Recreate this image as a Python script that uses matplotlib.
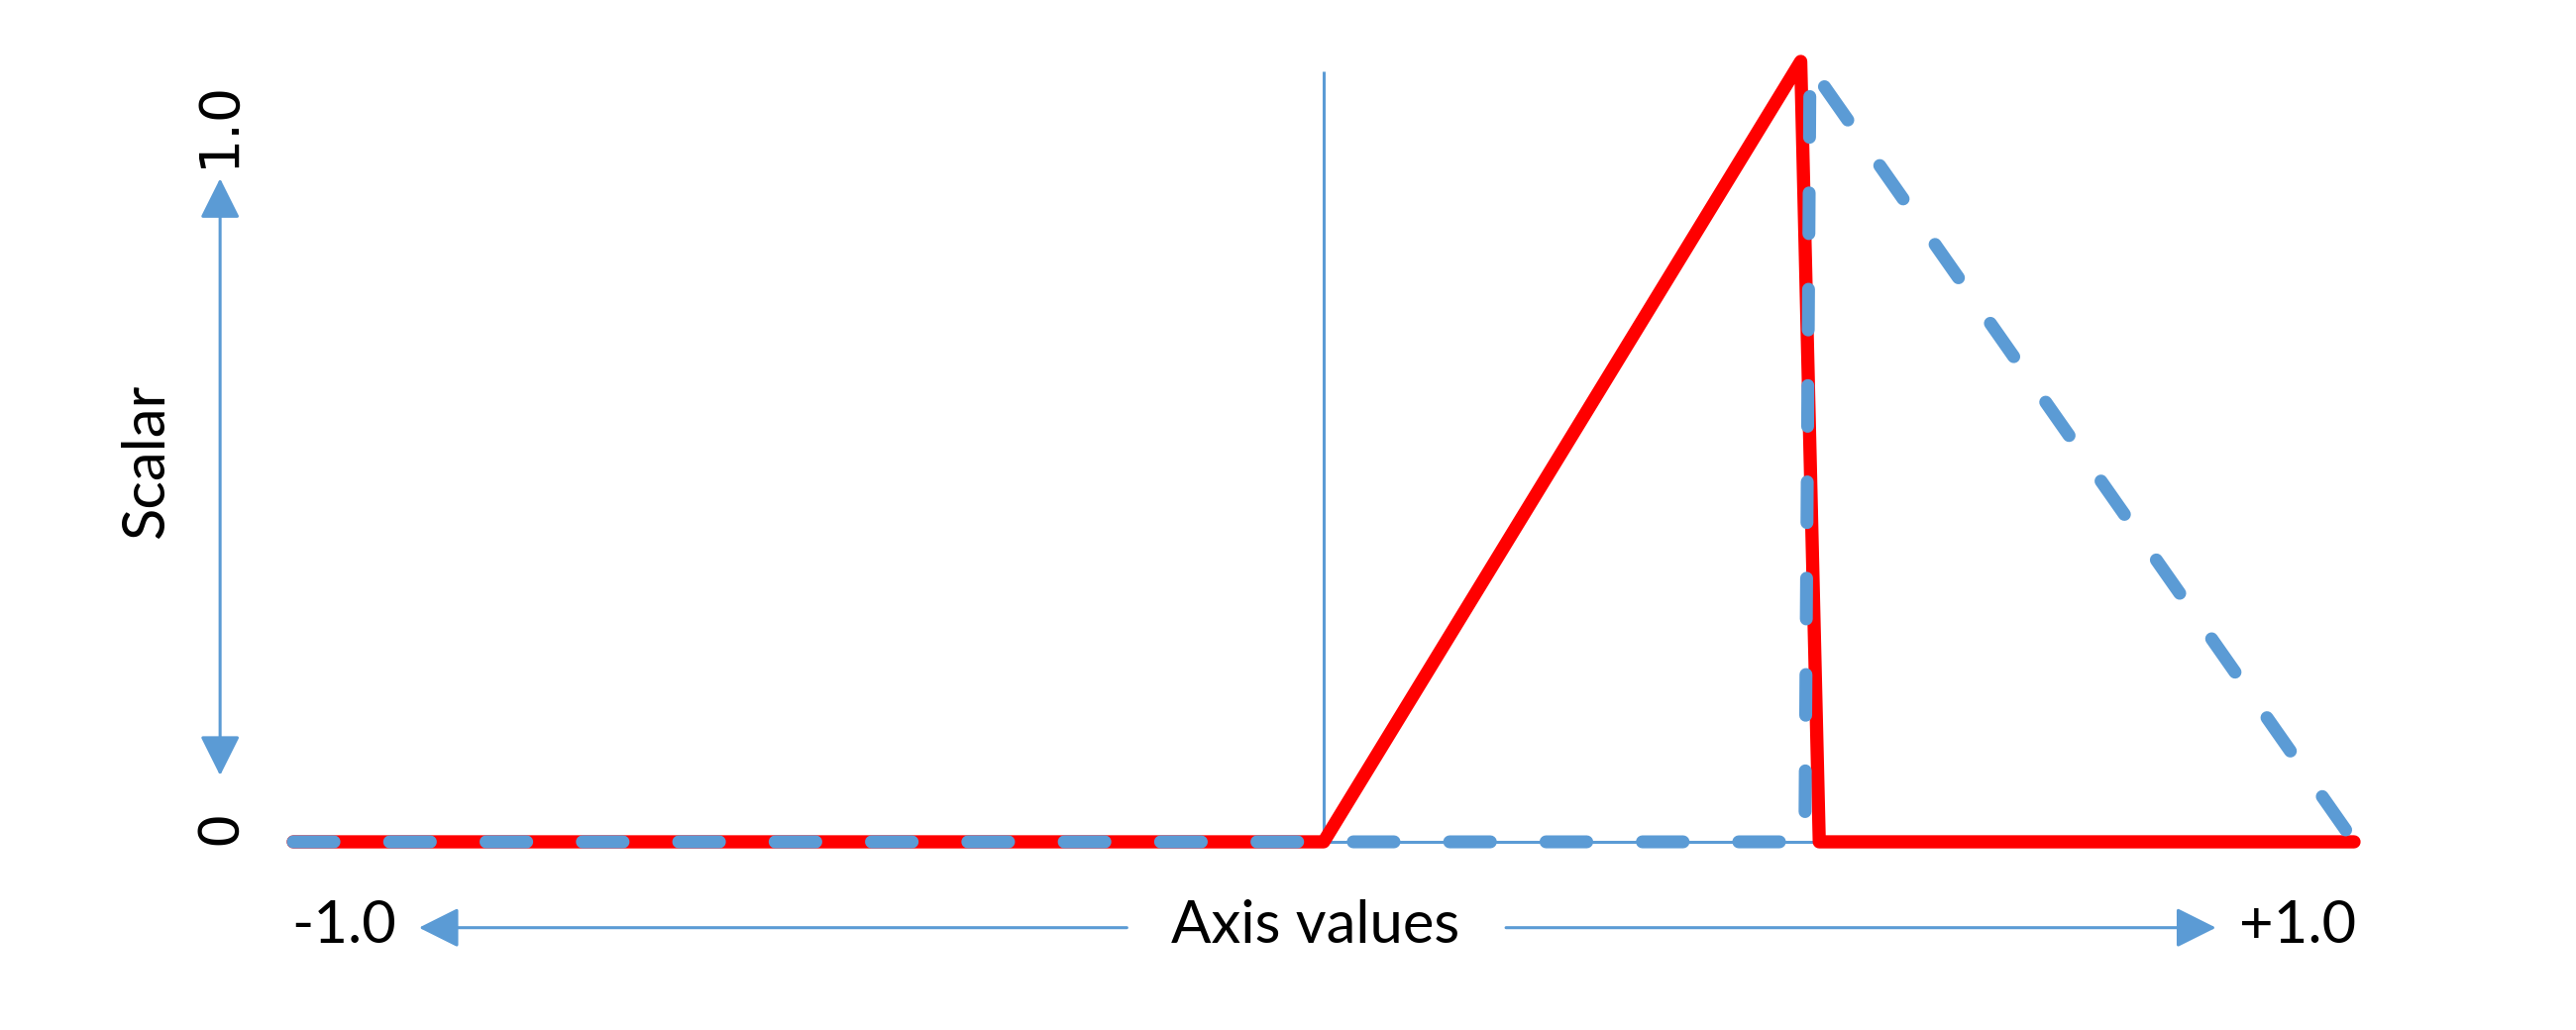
"""Scalar vs axis value sketch: red ramp and blue dashed triangle."""
import matplotlib
matplotlib.use("Agg")
import matplotlib.pyplot as plt

RED = "#FF0000"
BLUE = "#5B9BD5"

# red profile (solid)
red_x = [-1.0, 0.0, 0.463, 0.481, 1.0]
red_y = [0.0, 0.0, 1.0, 0.0, 0.0]

# blue profile (dashed)
blue_x = [-1.0, 0.467, 0.472, 1.0]
blue_y = [0.0, 0.0, 0.994, 0.0]

# thin guide lines at the origin
guide_x = [0.481, 0.0, 0.0]
guide_y = [0.0, 0.0, 0.987]

x_labels = ["-1.0", "Axis values", "+1.0"]
y_labels = ["0", "1.0"]
y_title = "Scalar"

fig = plt.figure(figsize=(26, 10.4), dpi=100)
ax = fig.add_axes([0, 0, 1, 1])
ax.set_xlim(-1.2846, 1.2154)
ax.set_ylim(-0.2411, 1.0787)
ax.axis("off")

ax.plot(guide_x, guide_y, color=BLUE, lw=2.2, solid_capstyle="butt", zorder=1)
ax.plot(red_x, red_y, color=RED, lw=9.6, solid_joinstyle="round",
        solid_capstyle="round", zorder=2)
ax.plot(blue_x, blue_y, color=BLUE, lw=9.4, dash_capstyle="round",
        dash_joinstyle="round", dashes=(3.15, 4.3), zorder=3)

# axis arrows
head = "head_length=2.5,head_width=1.25"
arrow = dict(arrowstyle="-|>," + head, color=BLUE, lw=2.2, shrinkA=0, shrinkB=0)
ax.annotate("", xy=(-0.878, -0.110), xytext=(-0.191, -0.110), arrowprops=arrow)
ax.annotate("", xy=(0.866, -0.110), xytext=(0.177, -0.110), arrowprops=arrow)
ax.annotate("", xy=(-1.071, 0.850), xytext=(-1.071, 0.085),
            arrowprops=dict(arrowstyle="<|-|>," + head, color=BLUE, lw=2.2,
                            shrinkA=0, shrinkB=0))

txt = dict(fontsize=43, family="Lato", color="black", ha="center", va="center")
ax.text(-0.951, -0.108, x_labels[0], **txt)
ax.text(-0.008, -0.108, x_labels[1], **txt)
ax.text(0.945, -0.108, x_labels[2], **txt)
ax.text(-1.142, 0.487, y_title, rotation=90, **txt)

digits = dict(fontsize=40, family="DejaVu Sans", color="black",
              ha="center", va="center", rotation=90)
ax.text(-1.071, 0.019, y_labels[0], **digits)
ax.text(-1.072, 0.92, y_labels[1], **digits)

fig.savefig("out.png", dpi=100)
